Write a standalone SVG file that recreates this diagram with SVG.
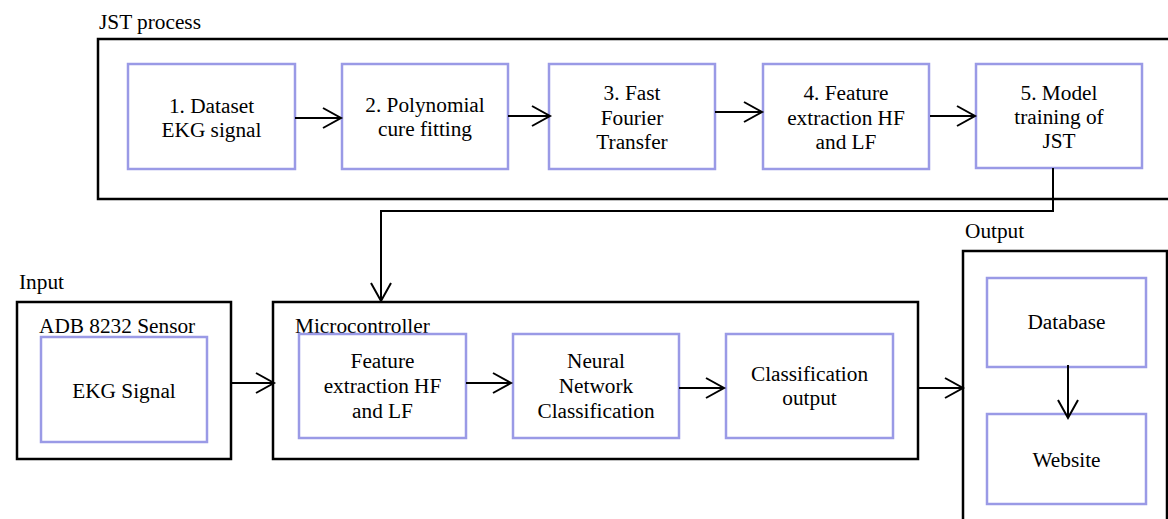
<svg xmlns="http://www.w3.org/2000/svg" width="1168" height="519" viewBox="0 0 1168 519" font-family="'Liberation Serif', 'Times New Roman', serif" font-size="21.3">
  <style>
    .frame { fill: none; stroke: #000; stroke-width: 2.5; }
    .box { fill: #fff; stroke: #9a9ae6; stroke-width: 2.5; }
    .wire { fill: none; stroke: #000; stroke-width: 2; }
    text { font-family: "Liberation Serif", "Times New Roman", serif; font-size: 21.3px; fill: #000; }
  </style>
  <defs>
    <marker id="vhead" markerUnits="userSpaceOnUse" markerWidth="24" markerHeight="24" viewBox="-20 -12 24 24" refX="0" refY="0" orient="auto">
      <path d="M-18,-10 L0,0 L-18,10" fill="none" stroke="#000" stroke-width="2"/>
    </marker>
  </defs>

  <rect width="1168" height="519" fill="#fff"/>

  <!-- JST training pipeline -->
  <g id="jst-process">
    <text x="99" y="29">JST process</text>
    <path class="frame" d="M1172,39 H98 V199 H1172"/>
  </g>
  <g id="step1" text-anchor="middle">
    <rect class="box" x="128" y="64" width="167" height="105"/>
    <text x="211.5" y="112.5">1. Dataset</text>
    <text x="211.5" y="136.5">EKG signal</text>
  </g>
  <g id="step2" text-anchor="middle">
    <rect class="box" x="342" y="64" width="166" height="105"/>
    <text x="425" y="112">2. Polynomial</text>
    <text x="425" y="136">cure fitting</text>
  </g>
  <g id="step3" text-anchor="middle">
    <rect class="box" x="549" y="64" width="166" height="105"/>
    <text x="632" y="100">3. Fast</text>
    <text x="632" y="124.5">Fourier</text>
    <text x="632" y="149">Transfer</text>
  </g>
  <g id="step4" text-anchor="middle">
    <rect class="box" x="763" y="64" width="166" height="105"/>
    <text x="846" y="100">4. Feature</text>
    <text x="846" y="124.5">extraction HF</text>
    <text x="846" y="149">and LF</text>
  </g>
  <g id="step5" text-anchor="middle">
    <rect class="box" x="976" y="64" width="166" height="104"/>
    <text x="1059" y="100">5. Model</text>
    <text x="1059" y="124">training of</text>
    <text x="1059" y="148">JST</text>
  </g>

  <!-- Input stage -->
  <g id="input">
    <text x="19" y="289">Input</text>
    <rect class="frame" x="17" y="302" width="214" height="157"/>
    <text x="39" y="333">ADB 8232 Sensor</text>
  </g>
  <g id="ekg-signal" text-anchor="middle">
    <rect class="box" x="41" y="337" width="166" height="105"/>
    <text x="124" y="398">EKG Signal</text>
  </g>

  <!-- Microcontroller stage -->
  <g id="microcontroller">
    <rect class="frame" x="273" y="302" width="645" height="157"/>
    <text x="295" y="333">Microcontroller</text>
  </g>
  <g id="feature-extraction" text-anchor="middle">
    <rect class="box" x="299" y="334" width="167" height="104"/>
    <text x="382.5" y="368">Feature</text>
    <text x="382.5" y="393">extraction HF</text>
    <text x="382.5" y="418">and LF</text>
  </g>
  <g id="neural-network" text-anchor="middle">
    <rect class="box" x="513" y="334" width="166" height="104"/>
    <text x="596" y="368">Neural</text>
    <text x="596" y="393">Network</text>
    <text x="596" y="418">Classification</text>
  </g>
  <g id="classification-output" text-anchor="middle">
    <rect class="box" x="726" y="334" width="167" height="104"/>
    <text x="809.5" y="381">Classification</text>
    <text x="809.5" y="405">output</text>
  </g>

  <!-- Output stage -->
  <g id="output">
    <text x="965" y="238">Output</text>
    <path class="frame" d="M963,530 V251 H1167 V530"/>
  </g>
  <g id="database" text-anchor="middle">
    <rect class="box" x="987" y="278" width="159" height="89"/>
    <text x="1066.5" y="329">Database</text>
  </g>
  <g id="website" text-anchor="middle">
    <rect class="box" x="987" y="414" width="159" height="90"/>
    <text x="1066.5" y="467">Website</text>
  </g>

  <!-- Connectors -->
  <g id="connectors">
    <path class="wire" d="M295,118 H341" marker-end="url(#vhead)"/>
    <path class="wire" d="M508,116 H550" marker-end="url(#vhead)"/>
    <path class="wire" d="M715,112 H762" marker-end="url(#vhead)"/>
    <path class="wire" d="M930,116 H975" marker-end="url(#vhead)"/>
    <path class="wire" d="M1053,168 V211 H381 V301" marker-end="url(#vhead)"/>
    <path class="wire" d="M231,383 H274" marker-end="url(#vhead)"/>
    <path class="wire" d="M466,383 H511" marker-end="url(#vhead)"/>
    <path class="wire" d="M679,388 H724" marker-end="url(#vhead)"/>
    <path class="wire" d="M918,388 H963" marker-end="url(#vhead)"/>
    <path class="wire" d="M1068,365 V418" marker-end="url(#vhead)"/>
  </g>
</svg>
